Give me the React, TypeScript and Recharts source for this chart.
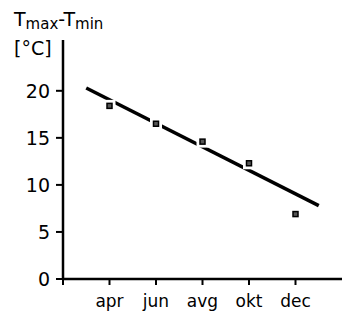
import React from 'react'
import {
  ComposedChart, Line, Scatter, XAxis, YAxis,
} from 'recharts'

// months: feb=2 ... dec=12
const monthTicks = [2, 4, 6, 8, 10, 12]
const monthLabels = ['', 'apr', 'jun', 'avg', 'okt', 'dec']
const tempTicks = [0, 5, 10, 15, 20]

// measured amplitude per month
const months = [4, 6, 8, 10, 12]
const amplitude = [18.4, 16.5, 14.6, 12.3, 6.9]

// fitted trend line endpoints
const fitMonths = [3, 13]
const fitValues = [20.3, 7.8]

const points = months.map((m, i) => ({ m, v: amplitude[i] }))
const fit = fitMonths.map((m, i) => ({ m, v: fitValues[i] }))

const font = '"DejaVu Sans", sans-serif'

function Marker(props: any) {
  const { cx, cy } = props
  if (cx == null || cy == null) return null
  return (
    <g>
      <rect x={cx - 6} y={cy - 6} width={12} height={12} fill="#fff" />
      <rect x={cx - 2.5} y={cy - 2.5} width={5} height={5} fill="#555" stroke="#000" strokeWidth={1.5} />
    </g>
  )
}

export default function App() {
  return (
    <div style={{ position: 'absolute', left: 0, top: 0, width: 342, height: 316, background: '#fff', fontFamily: font }}>
      <div style={{ position: 'absolute', left: 14, top: 10, fontSize: 19, color: '#000', lineHeight: 1, whiteSpace: 'nowrap' }}>
        T<span style={{ fontSize: 15, position: 'relative', top: 3 }}>max</span>-T<span style={{ fontSize: 15, position: 'relative', top: 3 }}>min</span>
      </div>
      <div style={{ position: 'absolute', left: 14, top: 39, fontSize: 19, color: '#000', lineHeight: 1 }}>
        [°C]
      </div>
      <ComposedChart width={342} height={316} margin={{ top: 40, right: 0, bottom: 0, left: 0 }}>
        <XAxis
          dataKey="m"
          type="number"
          domain={[2, 14]}
          ticks={monthTicks}
          tickFormatter={(v: number) => monthLabels[monthTicks.indexOf(v)] ?? ''}
          height={37}
          axisLine={{ stroke: '#000', strokeWidth: 2.5 }}
          tickLine={{ stroke: '#000', strokeWidth: 2 }}
          tickSize={6}
          tickMargin={10}
          tick={{ fill: '#000', fontSize: 17, fontFamily: font }}
          allowDataOverflow
        />
        <YAxis
          type="number"
          domain={[0, 25.4]}
          ticks={tempTicks}
          width={63}
          axisLine={{ stroke: '#000', strokeWidth: 2.5 }}
          tickLine={{ stroke: '#000', strokeWidth: 2 }}
          tickSize={7}
          tickMargin={6}
          tick={{ fill: '#000', fontSize: 19, fontFamily: font }}
          allowDataOverflow
        />
        <Line
          data={fit}
          dataKey="v"
          stroke="#000"
          strokeWidth={3.5}
          dot={false}
          activeDot={false}
          isAnimationActive={false}
        />
        <Scatter
          data={points}
          dataKey="v"
          shape={<Marker />}
          isAnimationActive={false}
        />
      </ComposedChart>
    </div>
  )
}
